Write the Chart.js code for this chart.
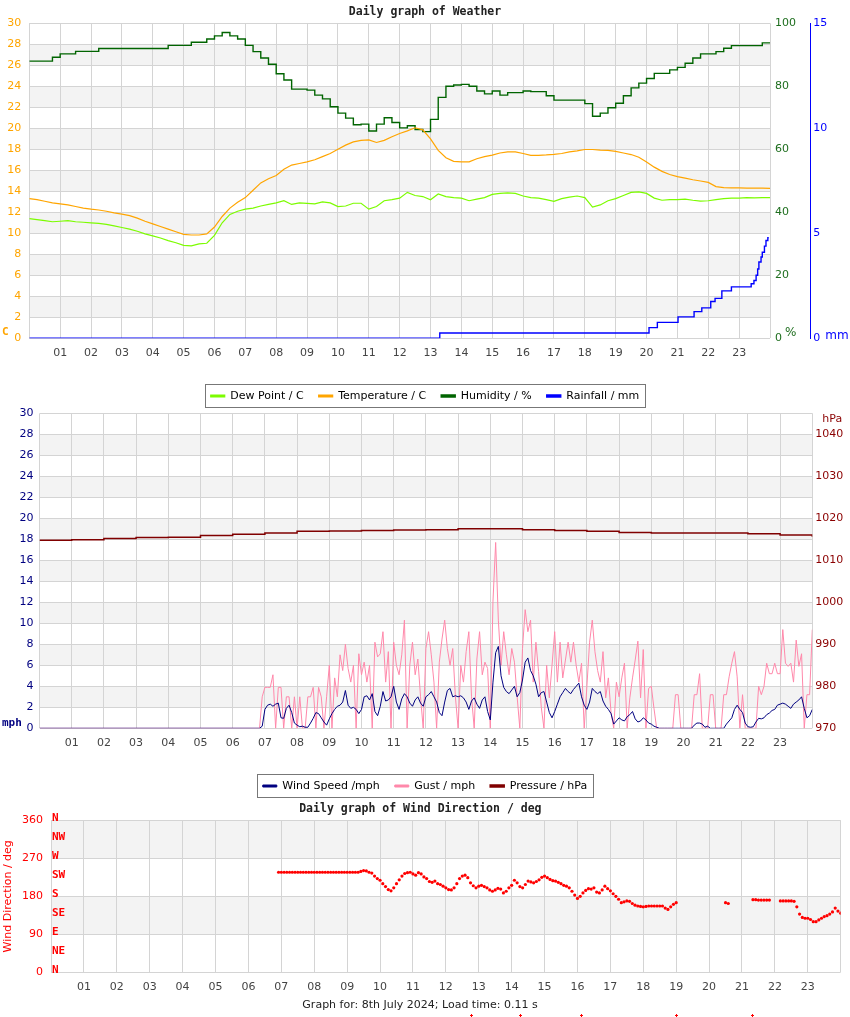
<!DOCTYPE html>
<html>
<head>
<meta charset="utf-8">
<title>Daily graph of Weather</title>
<script src="https://cdn.jsdelivr.net/npm/chart.js@4.4.1/dist/chart.umd.min.js"></script>
<style>
  html, body { margin: 0; padding: 0; background: #fff; }
  #page { position: relative; width: 850px; height: 1017px; overflow: hidden; }
  canvas { position: absolute; left: 0; }
  #weatherChart { top: 0; z-index: 3; }
  #windChart { top: 390px; z-index: 2; }
  #dirChart { top: 797px; z-index: 1; }
  #footer { position: absolute; top: 998px; left: 0; width: 840px; text-align: center;
            font: 11px "DejaVu Sans", sans-serif; color: #222; z-index: 4; }
</style>
</head>
<body>
<div id="page">
  <canvas id="weatherChart" width="850" height="412"></canvas>
  <canvas id="windChart" width="850" height="412"></canvas>
  <canvas id="dirChart" width="850" height="220"></canvas>
  <div id="footer">Graph for: 8th July 2024; Load time: 0.11 s</div>
</div>
<script>
// hour labels along the bottom of every graph
const hourLabels = ['01', '02', '03', '04', '05', '06', '07', '08', '09', '10', '11', '12',
                    '13', '14', '15', '16', '17', '18', '19', '20', '21', '22', '23'];

// --- Daily graph of Weather, one reading every 15 minutes from 00:00 to 24:00
const humidity = [
  88.0, 88.0, 88.0, 89.2, 90.3, 90.3, 91.1, 91.1, 91.1, 92.0, 92.0, 92.0,
  92.0, 92.0, 92.0, 92.0, 92.0, 92.0, 93.0, 93.0, 93.0, 94.0, 94.0, 95.0,
  96.0, 97.1, 96.0, 95.0, 93.0, 91.0, 89.0, 87.0, 84.0, 82.0, 79.1, 79.1,
  78.8, 77.2, 76.0, 73.5, 71.5, 69.9, 67.8, 68.0, 65.8, 68.0, 70.0, 68.5,
  66.8, 67.5, 66.3, 65.6, 69.5, 76.5, 80.0, 80.4, 80.6, 80.0, 78.5, 77.6,
  78.5, 77.2, 78.0, 78.0, 78.5, 78.3, 78.3, 77.0, 75.6, 75.6, 75.6, 75.6,
  74.5, 70.5, 71.5, 73.2, 74.6, 77.0, 79.5, 81.0, 82.5, 84.1, 84.1, 85.2,
  86.0, 87.3, 89.0, 90.3, 90.3, 91.0, 92.1, 92.9, 92.9, 92.9, 92.9, 93.8,
  93.8
];
const temperature = [
  13.3, 13.2, 13.05, 12.9, 12.8, 12.7, 12.55, 12.4, 12.3, 12.22, 12.1, 11.95,
  11.82, 11.68, 11.45, 11.15, 10.9, 10.65, 10.4, 10.15, 9.9, 9.84, 9.84, 9.95,
  10.6, 11.6, 12.4, 12.95, 13.4, 14.1, 14.8, 15.2, 15.5, 16.1, 16.5, 16.65,
  16.8, 17.0, 17.3, 17.6, 18.0, 18.4, 18.7, 18.85, 18.9, 18.65, 18.85, 19.2,
  19.5, 19.75, 20.05, 19.85, 19.0, 17.9, 17.2, 16.85, 16.8, 16.8, 17.1, 17.3,
  17.45, 17.65, 17.76, 17.76, 17.6, 17.42, 17.42, 17.46, 17.52, 17.6, 17.75, 17.85,
  17.98, 17.98, 17.93, 17.9, 17.8, 17.65, 17.5, 17.25, 16.8, 16.3, 15.9, 15.6,
  15.4, 15.25, 15.1, 14.98, 14.85, 14.45, 14.35, 14.33, 14.33, 14.3, 14.3, 14.3,
  14.28
];
const dewPoint = [
  11.4, 11.3, 11.2, 11.1, 11.15, 11.2, 11.1, 11.05, 11.0, 10.95, 10.85, 10.7,
  10.55, 10.4, 10.2, 9.95, 9.75, 9.55, 9.3, 9.1, 8.85, 8.8, 9.0, 9.05,
  9.8, 11.0, 11.8, 12.1, 12.3, 12.4, 12.6, 12.75, 12.9, 13.1, 12.75, 12.9,
  12.85, 12.8, 13.0, 12.9, 12.55, 12.6, 12.86, 12.86, 12.3, 12.55, 13.1, 13.2,
  13.35, 13.9, 13.6, 13.5, 13.2, 13.75, 13.5, 13.4, 13.35, 13.1, 13.25, 13.4,
  13.7, 13.8, 13.85, 13.8, 13.55, 13.4, 13.35, 13.2, 13.05, 13.3, 13.45, 13.55,
  13.4, 12.5, 12.7, 13.1, 13.3, 13.6, 13.9, 13.95, 13.8, 13.35, 13.15, 13.2,
  13.2, 13.25, 13.15, 13.07, 13.1, 13.2, 13.3, 13.35, 13.35, 13.4, 13.38, 13.4,
  13.4
];
// rain gauge total, only where it changes (hours, mm)
const rainHours = [0, 13.3, 20.08, 20.35, 21.02, 21.54, 21.79, 22.08, 22.22, 22.44, 22.75,
                   23.39, 23.48, 23.55, 23.6, 23.64, 23.71, 23.75, 23.82, 23.87, 23.93, 23.96];
const rainfall = [0, 0.25, 0.51, 0.76, 1.02, 1.27, 1.45, 1.75, 1.9, 2.26, 2.45,
                  2.6, 2.75, 3.0, 3.3, 3.63, 3.87, 4.1, 4.39, 4.66, 4.79, 4.79];

// --- wind and pressure
const pressure = [1014.8, 1014.9, 1015.2, 1015.4, 1015.5, 1015.9, 1016.2, 1016.5, 1016.9,
                  1017.0, 1017.1, 1017.2, 1017.3, 1017.5, 1017.5, 1017.3, 1017.1, 1016.9,
                  1016.6, 1016.5, 1016.5, 1016.5, 1016.3, 1016.0, 1015.6];
// 00:00, then every 5 minutes from 06:50 to 24:00
const windSpeed = [
  0,
  0, 0.2,
  1.8, 2.2, 2.3, 2.1, 2.3, 2.4, 1.0, 0.95, 1.9, 2.2, 1.5, 0.5,
  0.3, 0.15, 0.2, 0.1, 0.1, 0.5, 0.95, 1.5, 1.4, 1.0, 0.6, 0.3,
  0.9, 1.4, 1.8, 2.1, 2.2, 2.5, 3.6, 2.2, 1.9, 2.0, 1.8, 1.4,
  1.8, 3.0, 3.1, 2.7, 3.3, 1.6, 1.2, 2.1, 3.5, 2.6, 2.7, 3.0,
  4.0, 2.5, 1.8, 2.8, 3.3, 3.0, 2.4, 2.1, 2.7, 3.0, 2.4, 2.1,
  3.0, 3.2, 3.5, 3.0, 2.5, 1.5, 1.2, 2.5, 3.6, 3.8, 3.0, 3.1,
  3.0, 3.1, 2.9, 2.5, 1.8, 2.6, 2.9, 2.3, 1.9, 2.7, 3.0, 1.6,
  0.8, 4.4, 7.2, 7.8, 5.0, 3.9, 3.5, 3.3, 3.65, 4.0, 3.0, 3.4,
  4.6, 6.3, 6.7, 5.5, 5.0, 4.2, 3.0, 3.4, 3.5, 2.5, 1.5, 1.0,
  1.6, 2.3, 3.0, 3.4, 3.8, 3.5, 3.3, 3.7, 4.0, 4.3, 3.0, 2.2,
  1.8, 2.5, 3.8, 3.5, 3.3, 3.5, 2.6, 2.1, 1.8, 1.4, 0.4, 0.7,
  1.0, 0.8, 0.7, 1.1, 1.3, 1.6, 0.9, 0.6, 0.7, 1.0, 0.8, 0.5,
  0.4, 0.2, 0.1, 0, 0, 0, 0, 0, 0, 0, 0, 0,
  0, 0, 0, 0, 0.3, 0.5, 0.5, 0.4, 0.1, 0.2, 0, 0,
  0, 0, 0, 0, 0.4, 0.7, 1.0, 1.8, 2.2, 1.8, 1.5, 0.5,
  0.15, 0.1, 0.15, 0.6, 0.95, 0.9, 1.0, 1.3, 1.45, 1.7, 1.8, 2.2,
  2.3, 2.4, 2.3, 2.1, 1.9, 2.3, 2.5, 2.7, 3.0, 1.9, 1.0, 1.2,
  1.8
];
const windGust = [
  0,
  0, 3.0,
  3.9, 3.9, 3.9, 5.1, 0, 3.9, 3.9, 0, 3.0, 3.0, 0, 3.0,
  0, 3.0, 0, 0, 3.0, 3.0, 3.9, 0, 3.9, 3.0, 0, 3.0,
  6.0, 0, 4.8, 3.0, 7.0, 5.5, 8.0, 5.7, 4.4, 6.0, 0, 7.1,
  5.1, 6.3, 4.4, 6.0, 0, 8.2, 6.8, 7.1, 9.2, 4.4, 7.3, 0,
  8.2, 6.0, 5.1, 7.0, 10.3, 0, 6.0, 8.2, 5.1, 6.6, 3.0, 0,
  7.6, 9.2, 7.0, 4.4, 0, 6.3, 8.5, 10.3, 7.6, 6.0, 7.6, 3.0,
  0, 6.0, 4.4, 7.3, 9.2, 3.0, 0, 6.6, 9.2, 5.1, 6.3, 5.7,
  0, 12.1, 17.7, 10.3, 6.0, 9.2, 7.0, 5.1, 7.6, 6.3, 3.0, 0,
  7.6, 11.3, 9.2, 10.3, 4.4, 8.2, 5.4, 2.0, 0, 6.0, 2.9, 6.0,
  9.2, 4.4, 8.2, 4.8, 6.5, 8.2, 6.3, 8.2, 6.0, 4.4, 6.2, 0,
  4.0, 8.2, 10.3, 7.3, 5.5, 4.4, 7.3, 2.9, 4.8, 1.5, 0, 4.4,
  3.0, 4.8, 6.2, 0, 2.9, 4.8, 6.5, 8.3, 2.9, 7.5, 0, 3.8,
  4.0, 1.9, 0, 0, 0, 0, 0, 0, 0, 3.2, 3.2, 0,
  0, 0, 0, 0, 3.2, 3.2, 5.2, 0, 0, 0, 3.2, 3.2,
  0, 0, 0, 3.2, 3.2, 4.9, 6.2, 7.3, 4.9, 0, 3.2, 0,
  0, 0, 0, 0, 4.0, 3.2, 4.0, 6.2, 5.2, 5.2, 6.2, 5.2,
  5.2, 9.4, 6.2, 5.9, 6.2, 4.4, 8.4, 5.9, 7.1, 0, 3.2, 3.2,
  9.4
];

// --- wind direction, every 5 minutes from 06:55 to 24:00 (null = no reading)
const windDir = [
  237,
  237, 237, 237, 237, 237, 237, 237, 237, 237, 237, 237, 237,
  237, 237, 237, 237, 237, 237, 237, 237, 237, 237, 237, 237,
  237, 237, 237, 237, 237, 239, 241, 240, 237, 235, 228, 222,
  218, 210, 203, 196, 193, 200, 210, 219, 228, 234, 236, 237,
  233, 230, 236, 233, 226, 222, 215, 213, 216, 210, 208, 204,
  200, 196, 195, 200, 210, 222, 228, 230, 224, 212, 205, 200,
  204, 206, 203, 200, 195, 192, 195, 199, 197, 188, 192, 200,
  206, 218, 212, 203, 200, 208, 216, 214, 212, 215, 219, 225,
  228, 224, 220, 217, 216, 213, 210, 206, 204, 200, 192, 183,
  175, 180, 188, 194, 198, 197, 200, 190, 188, 195, 204, 198,
  193, 186, 180, 173, 165, 167, 169, 168, 163, 159, 157, 156,
  155, 156, 157, 157, 157, 157, 157, 157, 152, 149, 155, 161,
  165, null, null, null, null, null, null, null, null, null, null, null,
  null, null, null, null, null, null, 165, 163, null, null, null, null,
  null, null, null, null, 172, 172, 171, 171, 171, 171, 171, null,
  null, null, 169, 169, 169, 169, 169, 168, 155, 138, 130, 128,
  128, 125, 120, 120, 124, 128, 132, 134, 138, 143, 152, 145,
  140
];
// stray readings that fall below the direction scale
const calmHours = [12.75, 14.26, 16.1, 19.0, 21.3];
const calmMarks = [-100, -100, -100, -100, -100];
const compassPoints = ['N', 'NE', 'E', 'SE', 'S', 'SW', 'W', 'NW', 'N'];

// sampling times
const quarterHours = Array.from({length: humidity.length}, (_, i) => i / 4);
const pressureHours = Array.from({length: pressure.length}, (_, i) => i);
const windHours = [0].concat(Array.from({length: windSpeed.length - 1}, (_, i) => 6 + 50 / 60 + i / 12));
const dirHours = Array.from({length: windDir.length}, (_, i) => 6 + 55 / 60 + i / 12);

function points(xs, ys) {
  return ys.map((y, i) => ({x: xs[i], y: y}));
}

Chart.defaults.font.family = "'DejaVu Sans', sans-serif";
Chart.defaults.font.size = 11;
Chart.defaults.animation = false;
Chart.defaults.responsive = false;

const GRID = '#d4d4d4';
const HUM_GREEN = '#1e6e1e';

// grey bands between every other pair of y gridlines
const bands = {
  id: 'bands',
  beforeDraw(chart) {
    const s = chart.scales.y, a = chart.chartArea, ctx = chart.ctx;
    ctx.save();
    ctx.fillStyle = '#f3f3f3';
    for (let i = 1; i < s.ticks.length - 1; i += 2) {
      const top = s.getPixelForValue(s.ticks[i + 1].value);
      const bottom = s.getPixelForValue(s.ticks[i].value);
      ctx.fillRect(a.left, top, a.right - a.left, bottom - top);
    }
    ctx.restore();
  }
};

// white box with a grey frame behind the legend
const legendFrame = {
  id: 'legendFrame',
  beforeDraw(chart) {
    const lg = chart.legend;
    if (!lg || !lg.options.display || !lg.legendHitBoxes.length) return;
    const hb = lg.legendHitBoxes, ctx = chart.ctx;
    const first = hb[0], last = hb[hb.length - 1];
    const mid = first.top + first.height / 2;
    const x0 = Math.round(first.left - 6) + 0.5;
    const x1 = Math.round(last.left + last.width + 6) + 0.5;
    const y0 = Math.round(mid - 12) + 0.5;
    const y1 = Math.round(mid + 11) + 0.5;
    ctx.save();
    ctx.fillStyle = '#fff';
    ctx.fillRect(x0, y0, x1 - x0, y1 - y0);
    ctx.strokeStyle = '#777';
    ctx.lineWidth = 1;
    ctx.strokeRect(x0, y0, x1 - x0, y1 - y0);
    ctx.restore();
  }
};

function hourAxis(height) {
  return {
    type: 'linear', min: 0, max: 24,
    ticks: {
      stepSize: 1, autoSkip: false, maxRotation: 0, padding: 8, color: '#444',
      callback: v => hourLabels[v - 1] || ''
    },
    grid: {color: GRID, drawTicks: false},
    border: {display: false},
    afterFit: s => { s.height = height; }
  };
}

function titleOpts(text) {
  return {
    display: true, text: text, color: '#222',
    font: {family: "'DejaVu Sans Mono', monospace", size: 11.5, weight: 'bold'},
    padding: {top: 5, bottom: 4.5}
  };
}

function legendOpts() {
  return {
    display: true, position: 'bottom',
    labels: {color: '#000', boxWidth: 14, boxHeight: 2, padding: 15, font: {size: 11}}
  };
}

// ---------- chart 1: temperature, dew point, humidity, rain
new Chart(document.getElementById('weatherChart'), {
  type: 'line',
  data: {
    datasets: [
      {label: 'Dew Point / C', data: points(quarterHours, dewPoint), yAxisID: 'y',
       borderColor: '#7cfc00', backgroundColor: '#7cfc00', borderWidth: 1.2, pointRadius: 0},
      {label: 'Temperature / C', data: points(quarterHours, temperature), yAxisID: 'y',
       borderColor: '#ffa500', backgroundColor: '#ffa500', borderWidth: 1.2, pointRadius: 0},
      {label: 'Humidity / %', data: points(quarterHours, humidity), yAxisID: 'y1', stepped: true,
       borderColor: '#006400', backgroundColor: '#006400', borderWidth: 1.4, pointRadius: 0},
      {label: 'Rainfall / mm', data: points(rainHours, rainfall), yAxisID: 'y2', stepped: true,
       borderColor: '#0000ff', backgroundColor: '#0000ff', borderWidth: 1.4, pointRadius: 0}
    ]
  },
  options: {
    layout: {padding: {bottom: 0.5}},
    plugins: {
      title: titleOpts('Daily graph of Weather'),
      legend: legendOpts(),
      tooltip: {enabled: false}
    },
    scales: {
      x: hourAxis(37.2),
      y: {
        position: 'left', min: 0, max: 30,
        ticks: {stepSize: 2, color: '#ffa500', padding: 8},
        grid: {color: GRID, drawTicks: false}, border: {display: false},
        afterFit: s => { s.width = 29.3; }
      },
      y1: {
        position: 'right', min: 0, max: 100,
        ticks: {stepSize: 20, color: HUM_GREEN, padding: 5},
        grid: {display: false, drawTicks: false}, border: {display: false},
        afterFit: s => { s.width = 40.3; }
      },
      y2: {
        position: 'right', min: 0, max: 15,
        ticks: {stepSize: 5, color: '#0000ff', padding: 3},
        grid: {display: false, drawTicks: false}, border: {display: true, color: '#0000ff', width: 1},
        afterFit: s => { s.width = 39.7; }
      }
    }
  },
  plugins: [bands, legendFrame, {
    id: 'weatherUnits',
    afterDraw(chart) {
      const {ctx, chartArea: a, scales} = chart;
      ctx.save();
      ctx.textBaseline = 'middle';
      ctx.textAlign = 'left';
      ctx.font = "bold 11px 'DejaVu Sans Mono'";
      ctx.fillStyle = '#ffa500';
      ctx.fillText('C', 2, a.bottom - 6);
      ctx.font = "12px 'DejaVu Sans'";
      ctx.fillStyle = HUM_GREEN;
      ctx.fillText('%', scales.y1.left + 15, a.bottom - 5);
      ctx.fillStyle = '#0000ff';
      ctx.fillText('mm', scales.y2.left + 15, a.bottom - 2);
      ctx.restore();
    }
  }]
});

// ---------- chart 2: wind speed, gust, pressure
new Chart(document.getElementById('windChart'), {
  type: 'line',
  data: {
    datasets: [
      {label: 'Wind Speed /mph', data: points(windHours, windSpeed), yAxisID: 'y',
       borderColor: '#000080', backgroundColor: '#000080', borderWidth: 1, pointRadius: 0},
      {label: 'Gust / mph', data: points(windHours, windGust), yAxisID: 'y',
       borderColor: '#ff88aa', backgroundColor: '#ff88aa', borderWidth: 1, pointRadius: 0},
      {label: 'Pressure / hPa', data: points(pressureHours, pressure), yAxisID: 'yP', stepped: true,
       borderColor: '#800000', backgroundColor: '#800000', borderWidth: 1.5, pointRadius: 0}
    ]
  },
  options: {
    layout: {padding: {bottom: 0.5}},
    plugins: {
      title: titleOpts('Daily graph of Weather'),
      legend: legendOpts(),
      tooltip: {enabled: false}
    },
    scales: {
      x: hourAxis(37.2),
      y: {
        position: 'left', min: 0, max: 30,
        ticks: {stepSize: 2, color: '#000080', padding: 6},
        grid: {color: GRID, drawTicks: false}, border: {display: false},
        afterFit: s => { s.width = 39.5; }
      },
      yP: {
        position: 'right', min: 970, max: 1045,
        ticks: {stepSize: 10, color: '#8b0000', padding: 3, callback: v => String(v)},
        afterBuildTicks: s => { s.ticks = s.ticks.filter(t => t.value % 10 === 0); },
        grid: {display: false, drawTicks: false}, border: {display: false},
        afterFit: s => { s.width = 37.7; }
      }
    }
  },
  plugins: [bands, legendFrame, {
    id: 'windUnits',
    afterDraw(chart) {
      const {ctx, chartArea: a, scales} = chart;
      ctx.save();
      ctx.textBaseline = 'middle';
      ctx.textAlign = 'left';
      ctx.font = "bold 11px 'DejaVu Sans Mono'";
      ctx.fillStyle = '#000080';
      ctx.fillText('mph', 2, a.bottom - 5);
      ctx.font = "11px 'DejaVu Sans'";
      ctx.fillStyle = '#8b0000';
      ctx.fillText('hPa', scales.yP.left + 10, a.top + 6);
      ctx.restore();
    }
  }]
});

// ---------- chart 3: wind direction
new Chart(document.getElementById('dirChart'), {
  type: 'line',
  data: {
    datasets: [
      {label: 'Wind Direction / deg', data: points(dirHours, windDir), showLine: false,
       pointRadius: 1.6, pointBorderWidth: 0, pointBackgroundColor: '#ff0000', borderColor: '#ff0000'}
    ]
  },
  options: {
    layout: {padding: {right: 9.3}},
    plugins: {
      title: titleOpts('Daily graph of Wind Direction / deg'),
      legend: {display: false},
      tooltip: {enabled: false}
    },
    scales: {
      x: hourAxis(44.7),
      y: {
        position: 'left', min: 0, max: 360,
        ticks: {stepSize: 90, color: '#ff0000', padding: 8},
        title: {display: true, text: 'Wind Direction / deg', color: '#ff0000',
                font: {size: 11}, padding: {top: 2, bottom: 0}},
        grid: {color: GRID, drawTicks: false}, border: {display: false},
        afterFit: s => { s.width = 51; }
      }
    }
  },
  plugins: [bands, {
    id: 'compass',
    afterDraw(chart) {
      const {ctx, chartArea: a, scales} = chart;
      ctx.save();
      ctx.textBaseline = 'middle';
      ctx.textAlign = 'left';
      ctx.font = "bold 11px 'DejaVu Sans Mono'";
      ctx.fillStyle = '#ff0000';
      compassPoints.forEach((name, i) => {
        ctx.fillText(name, a.left + 1, scales.y.getPixelForValue(i * 45) - 2);
      });
      // small crosses for the readings below the scale (Chart.js skips points outside the area)
      ctx.strokeStyle = '#ff0000';
      ctx.lineWidth = 1;
      calmHours.forEach((h, i) => {
        const x = Math.round(scales.x.getPixelForValue(h)) + 0.5;
        const y = Math.round(scales.y.getPixelForValue(calmMarks[i])) + 0.5;
        ctx.beginPath();
        ctx.moveTo(x - 1.5, y); ctx.lineTo(x + 1.5, y);
        ctx.moveTo(x, y - 1.5); ctx.lineTo(x, y + 1.5);
        ctx.stroke();
      });
      ctx.restore();
    }
  }]
});
</script>
</body>
</html>
